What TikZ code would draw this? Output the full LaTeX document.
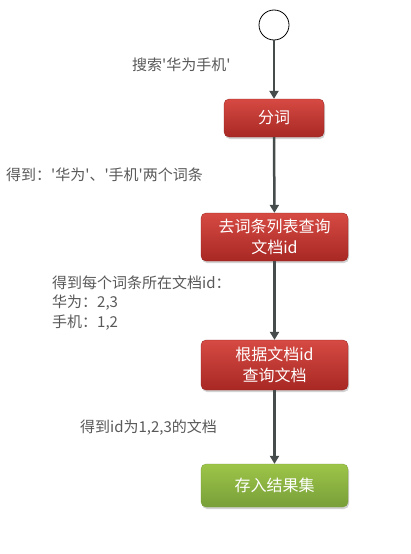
\documentclass[tikz,border=0pt]{standalone}
\usepackage{fontspec}
\setmainfont{Noto Sans CJK SC}[Ligatures=TeXOff]
\usetikzlibrary{arrows.meta,shadows}
\definecolor{labelgray}{HTML}{595959}
\definecolor{redtop}{HTML}{D64A43}
\definecolor{redbot}{HTML}{A82824}
\definecolor{greentop}{HTML}{9DC548}
\definecolor{greenbot}{HTML}{789F39}
\definecolor{flowline}{HTML}{464B4C}
\begin{document}
\begin{tikzpicture}[x=1pt,y=-1pt,
  stepbox/.style={rectangle,rounded corners=5pt,minimum height=#1,text=white,
    font=\fontsize{16}{20.5}\selectfont,align=center,inner sep=2pt,
    drop shadow={shadow xshift=1pt,shadow yshift=-2pt,opacity=0.35}},
  redbox/.style={stepbox=#1,top color=redtop,bottom color=redbot,draw=redbot!90!black,line width=0.3pt},
  greenbox/.style={stepbox=#1,top color=greentop,bottom color=greenbot,draw=greenbot,line width=0.3pt},
  lbl/.style={text=labelgray,font=\fontsize{15}{19}\selectfont,align=left,inner sep=0pt},
  flow/.style={draw=flowline,line width=2.5pt,-{Triangle[length=8pt,width=9pt]}}]
\useasboundingbox (0,0) rectangle (410,554);
\fill[white] (0,0) rectangle (410,554);
\node[circle,draw=black,line width=0.8pt,fill=white,minimum size=30pt,inner sep=0pt] (start) at (274,25) {};
\node[redbox=38pt,minimum width=100pt] (s1) at (274,118) {分词};
\node[redbox=48pt,minimum width=147pt] (s2) at (274.5,237) {去词条列表查询\\文档id};
\node[redbox=50pt,minimum width=147pt] (s3) at (274.5,365) {根据文档id\\查询文档};
\node[greenbox=43pt,minimum width=147pt] (s4) at (274.5,485.5) {存入结果集};
\draw[flow] (start) -- (s1);
\draw[flow] (s1) -- (s2);
\draw[flow] (s2) -- (s3);
\draw[flow] (s3) -- (s4);
\node[lbl,anchor=west] (l1) at (132,65) {搜索'华为手机'};
\node[lbl,anchor=west] (l2) at (6,175) {得到：'华为'、'手机'两个词条};
\node[lbl,anchor=west,font=\fontsize{15}{19.5}\selectfont] (l3) at (52,303) {得到每个词条所在文档id：\\华为：2,3\\手机：1,2};
\node[lbl,anchor=west] (l4) at (80,428) {得到id为1,2,3的文档};
\end{tikzpicture}
\end{document}
